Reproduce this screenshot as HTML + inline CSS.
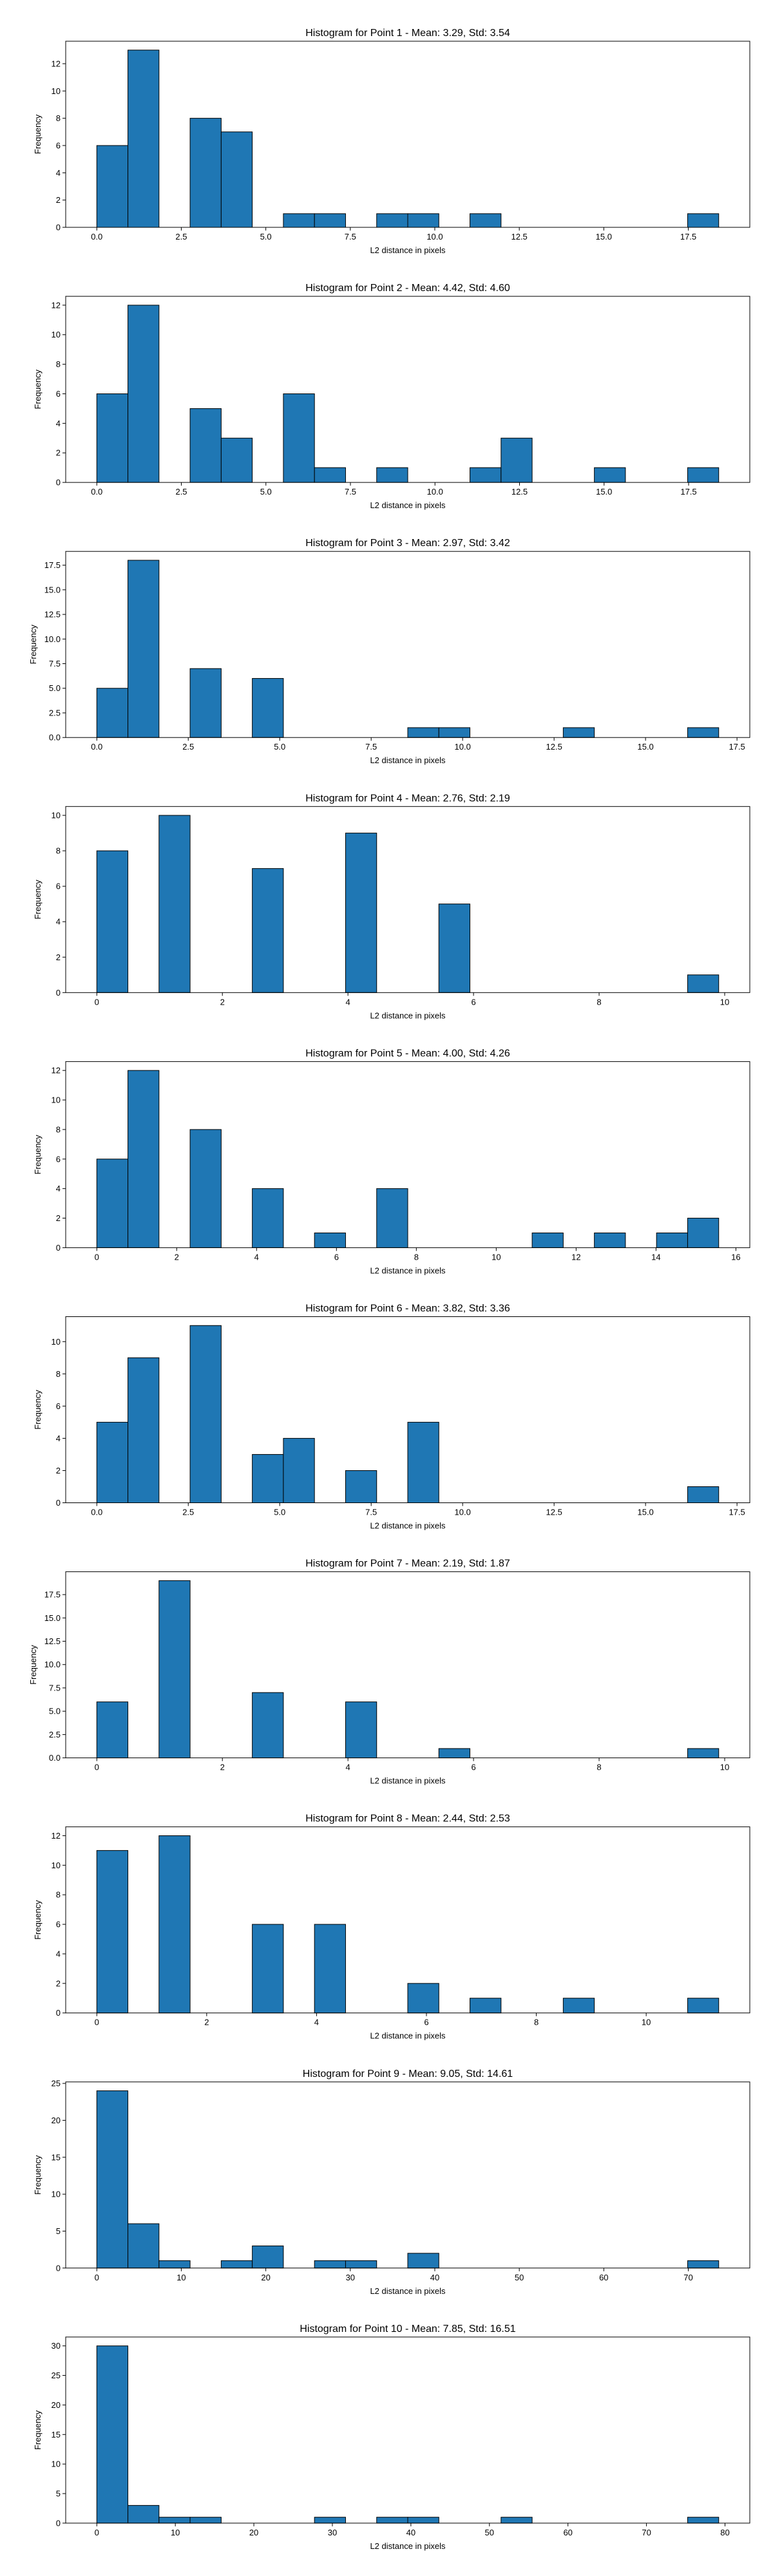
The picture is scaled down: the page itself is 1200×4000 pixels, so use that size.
<!DOCTYPE html>
<html><head><meta charset="utf-8">
<style>
html,body{margin:0;padding:0;background:#fff;}
svg{display:block;font-family:"Liberation Sans","DejaVu Sans",sans-serif;}
</style></head>
<body>
<svg id="fig" width="1200" height="4000" viewBox="0 0 1200 4000" xmlns="http://www.w3.org/2000/svg"></svg>
<script>
const titles = [
 "Histogram for Point 1 - Mean: 3.29, Std: 3.54",
 "Histogram for Point 2 - Mean: 4.42, Std: 4.60",
 "Histogram for Point 3 - Mean: 2.97, Std: 3.42",
 "Histogram for Point 4 - Mean: 2.76, Std: 2.19",
 "Histogram for Point 5 - Mean: 4.00, Std: 4.26",
 "Histogram for Point 6 - Mean: 3.82, Std: 3.36",
 "Histogram for Point 7 - Mean: 2.19, Std: 1.87",
 "Histogram for Point 8 - Mean: 2.44, Std: 2.53",
 "Histogram for Point 9 - Mean: 9.05, Std: 14.61",
 "Histogram for Point 10 - Mean: 7.85, Std: 16.51"
];
const counts1 = [6,13,0,8,7,0,1,1,0,1,1,0,1,0,0,0,0,0,0,1];
const counts2 = [6,12,0,5,3,0,6,1,0,1,0,0,1,3,0,0,1,0,0,1];
const counts3 = [5,18,0,7,0,6,0,0,0,0,1,1,0,0,0,1,0,0,0,1];
const counts4 = [8,0,10,0,0,7,0,0,9,0,0,5,0,0,0,0,0,0,0,1];
const counts5 = [6,12,0,8,0,4,0,1,0,4,0,0,0,0,1,0,1,0,1,2];
const counts6 = [5,9,0,11,0,3,4,0,2,0,5,0,0,0,0,0,0,0,0,1];
const counts7 = [6,0,19,0,0,7,0,0,6,0,0,1,0,0,0,0,0,0,0,1];
const counts8 = [11,0,12,0,0,6,0,6,0,0,2,0,1,0,0,1,0,0,0,1];
const counts9 = [24,6,1,0,1,3,0,1,1,0,2,0,0,0,0,0,0,0,0,1];
const counts10 = [30,3,1,1,0,0,0,1,0,1,1,0,0,1,0,0,0,0,0,1];
const allCounts = [counts1,counts2,counts3,counts4,counts5,counts6,counts7,counts8,counts9,counts10];
const dataMin = [0,0,0,0,0,0,0,0,0,0];
const dataMax = [18.4,18.39,17.0,9.905,15.57,17.0,9.905,11.32,73.6,79.2];
const xTickStep = [2.5,2.5,2.5,2,2,2.5,2,2,10,10];
const xTickDec = [1,1,1,0,0,1,0,0,0,0];
const yTickStep = [2,2,2.5,2,2,2,2.5,2,5,5];
const yTickDec = [0,0,1,0,0,0,1,0,0,0];

const NS = "http://www.w3.org/2000/svg";
const svg = document.getElementById("fig");
function mk(tag, attrs, parent){
  const e = document.createElementNS(NS, tag);
  for (const k in attrs) e.setAttribute(k, attrs[k]);
  (parent||svg).appendChild(e);
  return e;
}
const L = 102, R = 1164, H = 289, T0 = 64, GAP = 396.1;

allCounts.forEach((counts, ci) => {
  const top = T0 + GAP*ci, bot = top + H;
  const g = mk("g", {});
  
  
  const mn = dataMin[ci], mx = dataMax[ci];
  const pad = (mx - mn)*0.05;
  const x0 = mn - pad, x1 = mx + pad;
  const xs = v => L + (v - x0)/(x1 - x0)*(R - L);
  const ymax = Math.max(...counts)*1.05;
  const ys = v => bot - v/ymax*H;
  const bw = (mx - mn)/counts.length;
  counts.forEach((c, i) => {
    const a = xs(mn + i*bw), b = xs(mn + (i+1)*bw);
    const r = mk("rect", {x:a, y:ys(c), width:b-a, height:bot-ys(c), fill:"#1f77b4", stroke:"#000", "stroke-width":1}, g);
    
    
  });
  const frame = mk("rect", {x:L, y:top, width:R-L, height:H, fill:"none", stroke:"#000", "stroke-width":1}, g);
  
  
  // x ticks
  for (let v = 0; v <= x1 + 1e-9; v += xTickStep[ci]) {
    if (v < x0) continue;
    const x = xs(v);
    mk("line", {x1:x, y1:bot, x2:x, y2:bot+5, stroke:"#000", "stroke-width":1}, g);
    const t = mk("text", {x:x, y:bot+19, "text-anchor":"middle", "font-size":13, fill:"#000"}, g);
    t.textContent = v.toFixed(xTickDec[ci]);
    
    
  }
  // y ticks
  for (let v = 0; v <= ymax + 1e-9; v += yTickStep[ci]) {
    const y = ys(v);
    mk("line", {x1:L-5, y1:y, x2:L, y2:y, stroke:"#000", "stroke-width":1}, g);
    const t = mk("text", {x:L-8, y:y+4.5, "text-anchor":"end", "font-size":13, fill:"#000"}, g);
    t.textContent = v.toFixed(yTickDec[ci]);
    
    
  }
  const tt = mk("text", {x:(L+R)/2, y:top-8, "text-anchor":"middle", "font-size":16, fill:"#000"}, g);
  tt.textContent = titles[ci];
  
  
  const xl = mk("text", {x:(L+R)/2, y:bot+40, "text-anchor":"middle", "font-size":13, fill:"#000"}, g);
  xl.textContent = "L2 distance in pixels";
  
  
  const yx = yTickDec[ci] ? 56 : 63;
  const yl = mk("text", {x:yx, y:(top+bot)/2, "text-anchor":"middle", "font-size":13, fill:"#000", transform:"rotate(-90 "+yx+" "+((top+bot)/2)+")"}, g);
  yl.textContent = "Frequency";
  
  
});
</script>
</body></html>
